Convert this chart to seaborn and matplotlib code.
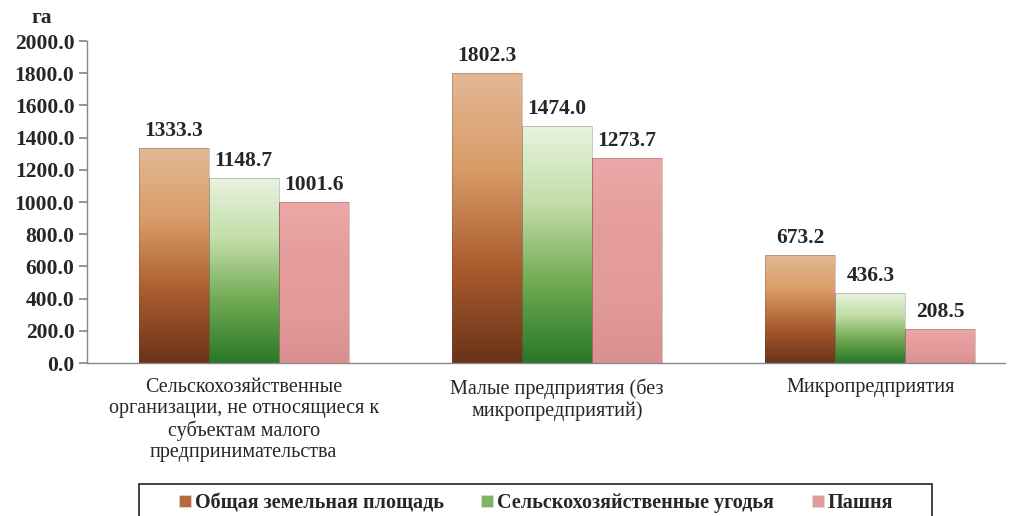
import numpy as np
import pandas as pd
import matplotlib
matplotlib.use("Agg")
import matplotlib.pyplot as plt
import seaborn as sns
from matplotlib.colors import LinearSegmentedColormap
from matplotlib.patches import Patch, Rectangle

# data
categories = ["Сельскохозяйственные\nорганизации, не относящиеся к\nсубъектам малого\nпредпринимательства",
              "Малые предприятия (без\nмикропредприятий)",
              "Микропредприятия"]
series = ["Общая земельная площадь", "Сельскохозяйственные угодья", "Пашня"]
total_area = [1333.3, 1802.3, 673.2]
farm_land = [1148.7, 1474.0, 436.3]
arable = [1001.6, 1273.7, 208.5]
yticks = [0, 200, 400, 600, 800, 1000, 1200, 1400, 1600, 1800, 2000]

df = pd.DataFrame({
    "cat": categories * 3,
    "series": [series[0]] * 3 + [series[1]] * 3 + [series[2]] * 3,
    "value": total_area + farm_land + arable,
})

sns.set_theme(style="white")
plt.rcParams["font.family"] = ["Liberation Serif", "DejaVu Serif"]

mid_colors = ["#b8683a", "#7fb461", "#e39a9a"]
gradients = [
    ["#e4b895", "#d89c68", "#ab5c2e", "#6a3318"],
    ["#e8f3de", "#c2dda8", "#70a951", "#287828"],
    ["#eca8a8", "#e59d9d", "#e39a9a", "#da9090"],
]

fig = plt.figure(figsize=(10.09, 5.16), dpi=100)
ax = fig.add_axes([0.0862, 0.2965, 0.91, 0.624])

sns.barplot(data=df, x="cat", y="value", hue="series", hue_order=series,
            palette=mid_colors, width=0.67, gap=0, ax=ax, legend=False,
            edgecolor="none", linewidth=0)

# gradient fill for every bar
grad = np.linspace(1, 0, 256).reshape(-1, 1)
for cont, stops in zip(ax.containers, gradients):
    cmap = LinearSegmentedColormap.from_list("g", stops[::-1])
    for bar in cont:
        x0, y0 = bar.get_x(), bar.get_y()
        w, h = bar.get_width(), bar.get_height()
        im = ax.imshow(grad, cmap=cmap, aspect="auto", extent=[x0, x0 + w, y0, y0 + h],
                       zorder=bar.get_zorder() + 0.1, vmin=0, vmax=1)
        im.set_clip_path(bar)
        ax.add_patch(Rectangle((x0, y0), w, h, fill=False, edgecolor="#5a4a40",
                               linewidth=0.6, alpha=0.35, zorder=bar.get_zorder() + 0.2))
    ax.bar_label(cont, fmt="%.1f", padding=5, fontsize=15.5, fontweight="bold")

ax.set_xlim(-0.5, 2.43)
ax.set_ylim(0, 2000)
ax.set_yticks(yticks)
ax.set_yticklabels([f"{v:.1f}" for v in yticks], fontsize=15.5, fontweight="bold")
ax.set_xticks(range(3))
ax.set_xticklabels(categories, fontsize=14.5, linespacing=1.15)
ax.tick_params(axis="y", length=6, color="#888888", direction="out", pad=3, left=True)
ax.tick_params(axis="x", length=0, pad=11)
ax.set_xlabel("")
ax.set_ylabel("")
for s in ["top", "right"]:
    ax.spines[s].set_visible(False)
for s in ["left", "bottom"]:
    ax.spines[s].set_color("#888888")
    ax.spines[s].set_linewidth(1.0)

fig.text(0.041, 0.985, "га", fontsize=15.5, fontweight="bold", ha="center", va="top")

# legend with a separate frame like the original
fig.patches.append(Rectangle((139 / 1009, -0.01), (932 - 139) / 1009, (1 - 484 / 516) + 0.01,
                             transform=fig.transFigure, fill=False, edgecolor="#222222",
                             linewidth=1.2))
handles = [Patch(facecolor=c, edgecolor="#dddddd", linewidth=0.5) for c in mid_colors]
leg = fig.legend(handles, series, loc="center left", bbox_to_anchor=(179 / 1009, 1 - 503 / 516),
                 ncol=3, frameon=False, handlelength=0.6, handleheight=0.6, handletextpad=0.2,
                 columnspacing=1.85, borderpad=0, borderaxespad=0,
                 prop={"weight": "bold", "size": 14.5})

fig.savefig("out.png", dpi=100)
